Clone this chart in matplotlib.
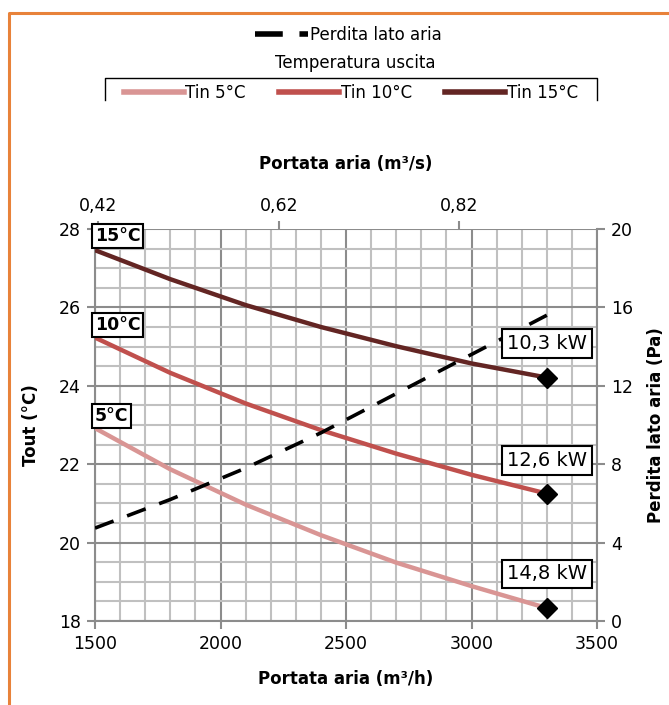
import matplotlib
matplotlib.use("Agg")
import matplotlib.pyplot as plt
from matplotlib.lines import Line2D
from matplotlib.ticker import MultipleLocator, FuncFormatter

plt.rcParams['font.family'] = ['DejaVu Sans']

# data
portata = [1500, 1800, 2100, 2400, 2700, 3000, 3300]          # m3/h
tout_5 = [22.92, 21.87, 20.97, 20.19, 19.49, 18.89, 18.33]      # °C
tout_10 = [25.23, 24.33, 23.55, 22.87, 22.27, 21.73, 21.25]
tout_15 = [27.46, 26.72, 26.06, 25.50, 25.01, 24.57, 24.21]
perdita = [4.74, 6.2, 7.8, 9.6, 11.6, 13.6, 15.6]               # Pa

tin_labels = ['5°C', '10°C', '15°C']
kw_labels = ['14,8 kW', '12,6 kW', '10,3 kW']
top_ticks = [0.42, 0.62, 0.82]

c5, c10, c15 = '#D99594', '#C0504D', '#632523'
grid_minor = '#C0C0C0'
grid_major = '#8C8C8C'

W, H = 669, 705
fig = plt.figure(figsize=(W / 100, H / 100), dpi=100)

ax = fig.add_axes([95 / W, 1 - 621 / H, 502 / W, 392 / H])
ax.set_xlim(1500, 3500)
ax.set_ylim(18, 28)
ax.xaxis.set_major_locator(MultipleLocator(500))
ax.xaxis.set_minor_locator(MultipleLocator(100))
ax.yaxis.set_major_locator(MultipleLocator(2))
ax.yaxis.set_minor_locator(MultipleLocator(0.5))
ax.grid(which='minor', color=grid_minor, lw=1.5)
ax.grid(which='major', color=grid_major, lw=1.5)
ax.set_axisbelow(True)
ax.tick_params(which='minor', length=0)
ax.tick_params(which='major', length=6, width=1.5, color=grid_major,
               labelsize=12.5, pad=4)
for s in ax.spines.values():
    s.set_visible(False)
for side in ('left', 'bottom'):
    ax.spines[side].set_visible(True)
    ax.spines[side].set_color(grid_major)
    ax.spines[side].set_linewidth(1.5)

for y, col in zip([tout_5, tout_10, tout_15], [c5, c10, c15]):
    ax.plot(portata, y, color=col, lw=3.2, solid_capstyle='butt',
            solid_joinstyle='round', zorder=3)
    ax.plot(portata[-1], y[-1], marker='D', ms=10.5, color='black', zorder=4)

ax.set_xlabel('Portata aria (m³/h)', fontsize=12, fontweight='bold', labelpad=12)
ax.set_ylabel('Tout (°C)', fontsize=12, fontweight='bold', labelpad=14)

# right axis: pressure drop
ax2 = ax.twinx()
ax2.set_ylim(0, 20)
ax2.yaxis.set_major_locator(MultipleLocator(4))
ax2.tick_params(length=6, width=1.5, color=grid_major, labelsize=12.5, pad=4)
for s in ax2.spines.values():
    s.set_visible(False)
ax2.spines['right'].set_visible(True)
ax2.spines['right'].set_color(grid_major)
ax2.spines['right'].set_linewidth(1.5)
ax2.plot(portata, perdita, color='black', lw=2.6, dashes=(5.5, 4), zorder=3)
ax2.set_ylabel('Perdita lato aria (Pa)', fontsize=12, fontweight='bold', labelpad=10)

# top axis in m3/s
top = ax.secondary_xaxis('top', functions=(lambda x: x / 3600, lambda x: x * 3600))
top.set_xticks(top_ticks)
top.xaxis.set_major_formatter(FuncFormatter(lambda v, p: f'{v:.2f}'.replace('.', ',')))
top.tick_params(length=6, width=1.5, color=grid_major, labelsize=12.5, pad=4)
top.spines['top'].set_visible(False)
top.set_xlabel('Portata aria (m³/s)', fontsize=12, fontweight='bold', labelpad=20)

box = dict(boxstyle='square,pad=0.15', fc='white', ec='black', lw=1.5)
for lab, ypos in zip(tin_labels, [23.23, 25.55, 27.82]):
    ax2.text(1500, ypos, lab, transform=ax.transData, ha='left', va='center',
             fontsize=12.5, fontweight='bold', bbox=box, zorder=6)
for lab, ypos in zip(kw_labels, [19.2, 22.1, 25.07]):
    ax2.text(3300, ypos, lab, transform=ax.transData, ha='center', va='center',
             fontsize=14, bbox=dict(boxstyle='square,pad=0.25', fc='white',
                                    ec='black', lw=1.5), zorder=6)

# legends
h_dash = Line2D([], [], color='black', lw=4, dashes=(5, 3))
fig.legend([h_dash], ['Perdita lato aria'], loc='center', bbox_to_anchor=(0.52, 1 - 35 / H),
           frameon=False, fontsize=12, handlelength=3.2, handletextpad=0.1)
fig.text(355 / W, 1 - 63 / H, 'Temperatura uscita', ha='center', va='center', fontsize=12)
hs = [Line2D([], [], color=c, lw=4) for c in (c5, c10, c15)]
fig.legend(hs, ['Tin 5°C', 'Tin 10°C', 'Tin 15°C'], loc='center', ncol=3,
           bbox_to_anchor=(351 / W, 1 - 93 / H), frameon=False, fontsize=12,
           handlelength=3.6, handletextpad=0.1, columnspacing=2.0)
fx = [105 / W, 105 / W, 597 / W, 597 / W]
fy = [1 - 100 / H, 1 - 78 / H, 1 - 78 / H, 1 - 100 / H]
fig.add_artist(Line2D(fx, fy, color='black', lw=1))

# orange frame
fig.add_artist(Line2D([9 / W, 9 / W, 1.0], [0.0, 1 - 13 / H, 1 - 13 / H],
                      color='#E8823A', lw=2.2))

fig.savefig('out.png', dpi=100)
